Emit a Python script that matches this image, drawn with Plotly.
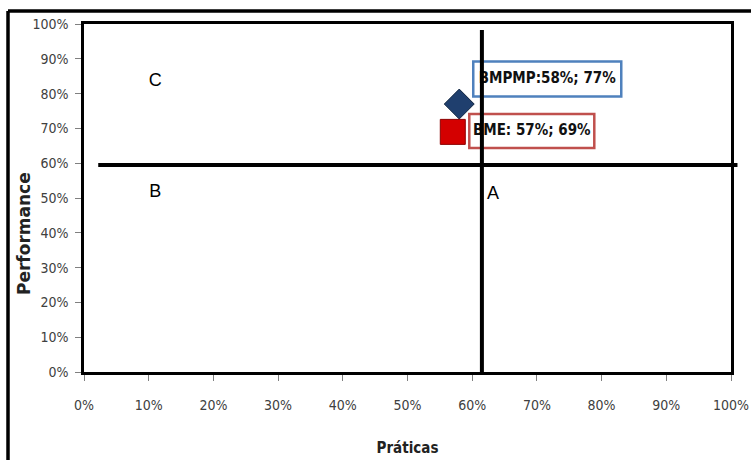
import plotly.graph_objects as go

# ---- data ----
series_names = ["BMPMP", "BME"]
praticas = [0.58, 0.57]
performance = [0.77, 0.69]
point_labels = ["BMPMP:58%; 77%", "BME: 57%; 69%"]
marker_symbols = ["diamond", "square"]
marker_colors = ["#1F3F6E", "#D40000"]
box_colors = ["#4F81BD", "#C0504D"]

quadrant_names = ["C", "B", "A"]
quadrant_x = [0.11, 0.11, 0.632]
quadrant_y = [0.835, 0.515, 0.51]

divider_x = 0.615   # vertical separator (Práticas)
divider_y = 0.595   # horizontal separator (Performance)

tick_vals = [i / 10 for i in range(11)]
tick_text = [f"{i*10}%" for i in range(11)]

x_title = "Práticas"
y_title = "Performance"

# ---- layout geometry (pixels) ----
W, H = 751, 460
L, R, T, B = 84, 20, 24, 88
PW, PH = W - L - R, H - T - B

def px_x(dx):
    return dx / PW

def px_y(dy):
    return dy / PH

# label box offsets from their points (pixels) and sizes
box_dx = [88, 79]
box_dy = [25, 1]
box_w = [148, 125]
box_h = [35, 34]

NARROW = "DejaVu Sans Condensed, Lato, sans-serif"

fig = go.Figure()

shapes = []
# label boxes (below traces)
for i in range(len(series_names)):
    cx = praticas[i] + px_x(box_dx[i])
    cy = performance[i] + px_y(box_dy[i])
    shapes.append(dict(type="rect", xref="x", yref="y", layer="below",
                       x0=cx - px_x(box_w[i]) / 2, x1=cx + px_x(box_w[i]) / 2,
                       y0=cy - px_y(box_h[i]) / 2, y1=cy + px_y(box_h[i]) / 2,
                       line=dict(color=box_colors[i], width=2.5),
                       fillcolor="white"))

# markers
for i in range(len(series_names)):
    fig.add_trace(go.Scatter(
        x=[praticas[i]], y=[performance[i]], mode="markers",
        name=series_names[i],
        marker=dict(symbol=marker_symbols[i], size=23 if i == 0 else 25,
                    color=marker_colors[i],
                    line=dict(color="#0F2440" if i == 0 else "#8B0000", width=1)),
        showlegend=False, hoverinfo="skip"))

# label texts
for i in range(len(series_names)):
    cx = praticas[i] + px_x(box_dx[i])
    cy = performance[i] + px_y(box_dy[i])
    fig.add_trace(go.Scatter(
        x=[cx], y=[cy], mode="text", text=[f"<b>{point_labels[i]}</b>"],
        textposition="middle center",
        textfont=dict(family=NARROW, size=15, color="#111111"),
        showlegend=False, hoverinfo="skip"))

# quadrant letters
fig.add_trace(go.Scatter(
    x=quadrant_x, y=quadrant_y, mode="text", text=quadrant_names,
    textfont=dict(family="Liberation Sans, Arial", size=18, color="black"),
    showlegend=False, hoverinfo="skip"))

# divider lines (above everything)
shapes.append(dict(type="line", xref="paper", yref="paper", layer="above",
                   x0=divider_x, x1=divider_x, y0=0, y1=0.983,
                   line=dict(color="black", width=4)))
shapes.append(dict(type="line", xref="paper", yref="paper", layer="above",
                   x0=0.022, x1=1.01, y0=divider_y, y1=divider_y,
                   line=dict(color="black", width=4)))

# outer frame (top and left edges)
fx = px_x(8 - L)
fy_top = 1 + px_y(T - 11)
shapes.append(dict(type="line", xref="paper", yref="paper", layer="above",
                   x0=fx, x1=1 + px_x(R + 5), y0=fy_top, y1=fy_top,
                   line=dict(color="black", width=3.5)))
shapes.append(dict(type="line", xref="paper", yref="paper", layer="above",
                   x0=fx, x1=fx, y0=fy_top, y1=-px_y(B + 5),
                   line=dict(color="black", width=3.5)))

tickfont = dict(family=NARROW, size=14, color="#404040")

fig.update_layout(
    width=W, height=H,
    margin=dict(l=L, r=R, t=T, b=B, autoexpand=False),
    paper_bgcolor="white", plot_bgcolor="white",
    shapes=shapes,
    annotations=[dict(text=f"<b>{y_title}</b>", xref="paper", yref="paper",
                      x=px_x(24 - L), y=px_y(H - B - 234),
                      xanchor="center", yanchor="middle", textangle=-90,
                      showarrow=False,
                      font=dict(family="DejaVu Sans, sans-serif", size=17, color="#222222"))],
    xaxis=dict(range=[0, 1], tickvals=tick_vals, ticktext=tick_text,
               showgrid=False, zeroline=False,
               showline=True, mirror=True, linecolor="black", linewidth=2.5,
               ticks="outside", ticklen=6, tickcolor="#808080",
               tickfont=tickfont, ticklabelstandoff=12,
               title=dict(text=f"<b>{x_title}</b>",
                          font=dict(family=NARROW, size=15, color="#222222"),
                          standoff=31)),
    yaxis=dict(range=[0, 1], tickvals=tick_vals, ticktext=tick_text,
               showgrid=False, zeroline=False,
               showline=True, mirror=True, linecolor="black", linewidth=2.5,
               ticks="outside", ticklen=6, tickcolor="#808080",
               tickfont=tickfont, ticklabelstandoff=4),
)

fig.write_html("out.html", config={"displayModeBar": False},
               post_script="document.body.style.margin='0px';")
